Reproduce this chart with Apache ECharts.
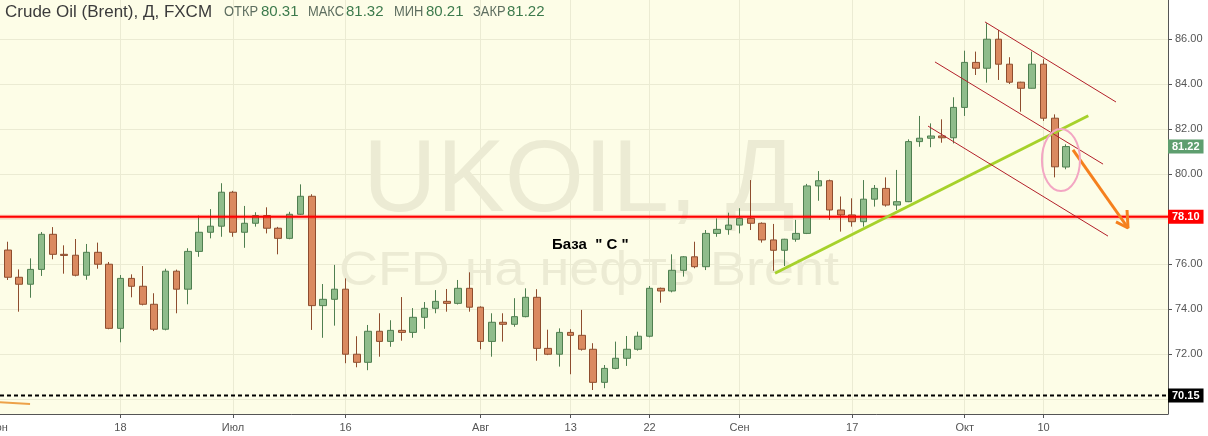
<!DOCTYPE html>
<html><head><meta charset="utf-8">
<script src="https://cdn.jsdelivr.net/npm/echarts@6/dist/echarts.min.js"></script>
<style>html,body{margin:0;padding:0;background:#fff}#c{width:1208px;height:436px}</style>
</head><body><div id="c"></div>
<script>
// ---- data ----
const tickIndex = [0, 11, 21, 31, 43, 51, 58, 66, 76, 86, 93];
const tickLabels = ['Июн', '18', 'Июл', '16', 'Авг', '13', '22', 'Сен', '17', 'Окт', '10'];
const candleStart = 1; // index of first visible candle (4 June)
// [open, close, low, high]
const candles = [
 [76.62,75.41,75.29,76.99],[75.41,75.10,73.88,75.76],[75.10,75.76,74.50,76.25],[75.76,77.32,75.47,77.42],
 [77.32,76.43,76.21,77.64],[76.43,76.38,75.57,76.83],[76.39,75.50,75.45,77.11],[75.50,76.52,75.30,76.89],
 [76.52,75.99,75.79,76.95],[75.99,73.14,73.10,76.09],[73.14,75.36,72.52,75.51],[75.36,75.01,74.52,75.54],
 [75.01,74.21,74.16,75.91],[74.21,73.10,73.02,74.70],[73.10,75.68,73.05,75.79],[75.68,74.88,73.81,75.75],
 [74.88,76.56,74.21,76.70],[76.56,77.41,76.32,78.15],[77.41,77.68,77.14,78.44],[77.68,79.19,77.21,79.59],
 [79.19,77.41,77.21,79.25],[77.41,77.81,76.72,78.58],[77.81,78.15,77.66,78.30],[78.15,77.59,77.36,78.52],
 [77.59,77.14,76.43,77.65],[77.14,78.21,77.10,78.32],[78.21,79.01,78.18,79.54],[79.01,74.15,73.07,79.10],
 [74.15,74.43,72.72,75.11],[74.43,74.88,73.26,75.96],[74.88,71.99,71.59,75.36],[71.99,71.63,71.41,72.79],
 [71.63,73.01,71.28,73.29],[73.01,72.56,71.88,73.81],[72.56,73.05,72.32,73.50],[73.05,72.96,72.59,74.53],
 [72.96,73.63,72.72,74.04],[73.63,74.03,73.12,74.31],[74.03,74.34,73.81,74.84],[74.34,74.25,73.88,74.89],
 [74.25,74.92,74.20,75.29],[74.92,74.08,73.88,75.63],[74.08,72.56,72.21,74.12],[72.56,73.41,71.88,73.81],
 [73.41,73.32,72.55,73.81],[73.32,73.66,73.21,74.48],[73.66,74.52,73.63,74.92],[74.52,72.25,71.70,74.88],
 [72.25,71.99,71.95,73.08],[71.99,72.96,71.44,73.14],[72.96,72.83,71.10,73.10],[72.83,72.21,72.15,73.96],
 [72.21,70.74,70.40,72.48],[70.74,71.36,70.48,71.51],[71.36,71.81,71.32,72.55],[71.81,72.21,71.47,72.80],
 [72.21,72.79,72.15,72.99],[72.79,74.92,72.74,75.02],[74.92,74.80,74.28,74.95],[74.80,75.72,74.74,76.43],
 [75.72,76.32,75.44,76.35],[76.32,75.88,75.81,76.99],[75.88,77.36,75.73,77.51],[77.36,77.54,77.21,78.03],
 [77.54,77.73,77.30,78.28],[77.73,78.03,77.36,78.48],[78.03,77.81,77.51,79.73],[77.81,77.07,76.95,77.85],
 [77.07,76.61,75.70,77.78],[76.61,77.10,75.91,77.12],[77.10,77.36,76.99,77.96],[77.36,79.47,77.33,79.56],
 [79.47,79.70,78.81,80.13],[79.70,78.40,77.96,79.75],[78.40,78.18,77.44,79.00],[78.18,77.88,77.66,78.92],
 [77.88,78.88,77.66,79.73],[78.88,79.36,78.55,79.51],[79.36,78.62,78.55,79.85],[78.62,78.77,78.40,80.18],
 [78.77,81.44,78.75,81.54],[81.44,81.59,81.21,82.58],[81.59,81.69,81.19,82.25],[81.69,81.61,81.39,82.43],
 [81.61,82.96,81.36,83.41],[82.96,84.96,82.58,85.48],[84.96,84.70,84.40,85.44],[84.70,85.99,84.06,86.70],
 [85.99,84.88,84.18,86.40],[84.88,84.08,84.00,85.19],[84.08,83.81,82.77,84.10],[83.81,84.88,83.80,85.44],
 [84.88,82.48,82.36,85.10],[82.48,80.32,79.85,82.65],[80.31,81.22,80.21,81.32]
];
const priceTicks = [70, 72, 74, 76, 78, 80, 82, 84, 86];
const priceLabels = [72, 74, 76, 80, 82, 84, 86];
const levelRed = 78.10;
const levelBlack = 70.15;
// annotations (x = candle index, y = price)
const trendLine = [[69.15, 75.59], [96.98, 82.59]];
const channelTop = [[87.80, 86.76], [99.44, 83.20]];
const channelMid = [[83.36, 84.98], [98.29, 80.44]];
const channelLow = [[82.74, 82.13], [98.73, 77.24]];
const arrowShaft = [[95.62, 81.07], [100.51, 77.60]];
const arrowHead = [[99.44, 77.87], [100.51, 77.60], [100.42, 78.40]];
const oldLine = [[-1.0, 69.89], [2.97, 69.78]];
const ellipse = [[94.55, 80.62, 1.69, 1.38]]; // cx, cy, rx, ry

// ---- chart ----
const xMin = 0.302, xMax = 104.06, yMin = 69.3333, yMax = 87.7333;
const last = candles[candles.length - 1];
const tagValues = [levelBlack, levelRed, last[1]];
const tagStyles = ['k', 'r', 'g'];
const FONT = 'Liberation Sans, Arial, sans-serif';
const chart = echarts.init(document.getElementById('c'), null, {renderer: 'canvas'});

function lineSeries(data, color, width, type, z) {
  return {type: 'line', data: data, showSymbol: false, symbol: 'none', silent: true, animation: false,
    z: z || 3, lineStyle: {color: color, width: width, type: type || 'solid'}};
}

const labelColor = '#5e6e60', valueColor = '#3c7a4c';
const hdr = [
  {t: 'Crude Oil (Brent), Д, FXCM', x: 5, c: '#3b3b3b', f: '17px ' + FONT, s: 1},
  {t: 'ОТКР', x: 224, c: labelColor, f: '15px ' + FONT, s: 0.86},
  {t: last[0].toFixed(2), x: 261, c: valueColor, f: '15px ' + FONT, s: 1},
  {t: 'МАКС', x: 308, c: labelColor, f: '15px ' + FONT, s: 0.86},
  {t: last[3].toFixed(2), x: 346, c: valueColor, f: '15px ' + FONT, s: 1},
  {t: 'МИН', x: 394, c: labelColor, f: '15px ' + FONT, s: 0.86},
  {t: last[2].toFixed(2), x: 426, c: valueColor, f: '15px ' + FONT, s: 1},
  {t: 'ЗАКР', x: 473, c: labelColor, f: '15px ' + FONT, s: 0.86},
  {t: last[1].toFixed(2), x: 507, c: valueColor, f: '15px ' + FONT, s: 1}
];

const option = {
  animation: false,
  grid: {left: 0, right: 40, top: 0, bottom: 22, show: true, backgroundColor: '#fdfde7', borderWidth: 0,
    outerBoundsMode: 'none', containLabel: false},
  xAxis: {
    type: 'value', min: xMin, max: xMax,
    axisLine: {show: true, lineStyle: {color: '#555', width: 1}},
    axisTick: {show: true, customValues: tickIndex, length: 4, lineStyle: {color: '#555'}},
    axisLabel: {customValues: tickIndex, margin: 8, color: '#555', fontSize: 11, fontFamily: FONT,
      hideOverlap: false, formatter: v => tickLabels[tickIndex.indexOf(Math.round(v))] || ''},
    splitLine: {show: true, lineStyle: {color: '#ebebd3', width: 1}}
  },
  yAxis: [{
    type: 'value', position: 'right', min: yMin, max: yMax,
    axisLine: {show: true, lineStyle: {color: '#555', width: 1}},
    axisTick: {show: true, customValues: priceTicks, length: 4, lineStyle: {color: '#555'}},
    axisLabel: {customValues: priceLabels, margin: 7, color: '#555', fontSize: 11, fontFamily: FONT,
      formatter: v => v.toFixed(2)},
    splitLine: {show: true, lineStyle: {color: '#ebebd3', width: 1}}
  }, {
    type: 'value', position: 'right', min: yMin, max: yMax,
    axisLine: {show: false}, axisTick: {show: false}, splitLine: {show: false},
    axisLabel: {customValues: tagValues, margin: 0, fontFamily: FONT,
      formatter: v => {
        let k = 0;
        tagValues.forEach((t, i) => { if (Math.abs(t - v) < 1e-6) k = i; });
        return '{' + tagStyles[k] + '|' + v.toFixed(2) + '}';
      },
      rich: {
        g: {backgroundColor: '#5e9e6f', color: '#fff', fontWeight: 'bold', fontSize: 11, fontFamily: FONT, padding: [2, 4, 1, 4]},
        r: {backgroundColor: '#ff0000', color: '#fff', fontWeight: 'bold', fontSize: 11, fontFamily: FONT, padding: [2, 4, 1, 4]},
        k: {backgroundColor: '#000000', color: '#fff', fontWeight: 'bold', fontSize: 11, fontFamily: FONT, padding: [2, 4, 1, 4]}
      }}
  }],
  graphic: [
    {type: 'text', z: 1, silent: true, x: 363, y: 132, style: {text: 'UKOIL, Д', fill: '#ecebd4', font: '102px ' + FONT}},
    {type: 'text', z: 1, silent: true, x: 339, y: 247, scaleX: 1.1, style: {text: 'CFD на нефть Brent', fill: '#ecebd4', font: '49px ' + FONT}},
    {type: 'text', z: 10, silent: true, x: 552, y: 237, style: {text: 'База  " С "', fill: '#000', font: 'bold 15px ' + FONT}}
  ].concat(hdr.map(h => ({type: 'text', z: 10, silent: true, x: h.x, y: 12, scaleX: h.s,
      style: {text: h.t, fill: h.c, font: h.f, verticalAlign: 'middle', textVerticalAlign: 'middle'}}))),
  series: [
    {type: 'candlestick', z: 2, barWidth: 7, silent: true,
      data: candles.map((c, i) => [i + candleStart, c[0], c[1], c[2], c[3]]),
      itemStyle: {color: '#8fbc8b', color0: '#da8a60', borderColor: '#4f7f50', borderColor0: '#8e4d2e', borderWidth: 1}},
    lineSeries([[xMin, levelRed], [xMax, levelRed]], 'rgba(255,0,0,0.25)', 4),
    lineSeries([[xMin, levelRed], [xMax, levelRed]], '#ff0000', 2),
    lineSeries([[xMin, levelBlack], [xMax, levelBlack]], '#000', 2, [4, 3]),
    lineSeries(trendLine, '#a6d12b', 3),
    lineSeries(channelTop, '#b3202a', 1),
    lineSeries(channelMid, '#b3202a', 1),
    lineSeries(channelLow, '#b3202a', 1),
    lineSeries(arrowShaft, '#f5801e', 3),
    lineSeries(arrowHead, '#f5801e', 3),
    lineSeries(oldLine, '#eda24a', 2),
    {type: 'custom', z: 4, silent: true, data: ellipse,
      renderItem: (params, api) => {
        const c = api.coord([api.value(0), api.value(1)]);
        const s = api.size([api.value(2), api.value(3)]);
        return {type: 'ellipse', shape: {cx: c[0], cy: c[1], rx: s[0], ry: s[1]},
          style: {fill: 'none', stroke: '#f3a6c3', lineWidth: 2}};
      }}
  ]
};
chart.setOption(option);

// first month label lies left of the visible range: place it on the axis scale
const x0 = chart.convertToPixel({xAxisIndex: 0}, tickIndex[0]);
const yAxisBottom = chart.convertToPixel({yAxisIndex: 0}, yMin);
chart.setOption({graphic: option.graphic.concat([{type: 'text', silent: true, z: 10, x: x0, y: yAxisBottom + 8,
  style: {text: tickLabels[0], fill: '#555', font: '11px ' + FONT, align: 'center', textAlign: 'center'}}])});
</script>
</body></html>
